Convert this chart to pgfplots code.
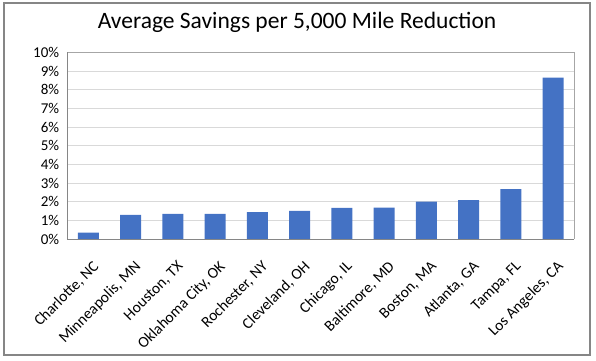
\documentclass[border=0pt]{standalone}
\usepackage{fontspec}
\setmainfont{Carlito}
\usepackage{pgfplots}
\pgfplotsset{compat=1.18}
\definecolor{barblue}{HTML}{4472C4}
\definecolor{gridgray}{HTML}{D9D9D9}
\definecolor{axgray}{HTML}{868686}
\definecolor{framegray}{HTML}{A6A6A6}
\begin{document}
\begin{tikzpicture}[x=1pt,y=1pt]
\path (0,0) rectangle (596,360);
\draw[color=axgray, line width=1.2pt] (4,5) rectangle (590,357);
\node[font=\fontsize{23.5}{28}\selectfont, text=black, anchor=base, inner sep=0pt] at (297,331.7) {Average Savings per 5,000 Mile Reduction};
\begin{axis}[
  at={(67.3pt,120.7pt)}, anchor=south west,
  scale only axis, width=507pt, height=187pt,
  xmin=-0.5, xmax=11.5, ymin=0, ymax=10,
  ytick={0,1,2,3,4,5,6,7,8,9,10},
  yticklabels={0\%,1\%,2\%,3\%,4\%,5\%,6\%,7\%,8\%,9\%,10\%},
  xtick={0,1,2,3,4,5,6,7,8,9,10,11},
  xticklabels={},
  yticklabel style={font=\fontsize{15}{17}\selectfont, inner sep=0pt, xshift=-8pt, anchor=east},
  tick style={draw=none},
  ymajorgrids, grid style={color=gridgray, line width=1pt},
  axis line style={draw=none},
  clip=false,
]
\addplot[ybar, bar width=21pt, fill=barblue, draw=none] coordinates {
  (0,0.36) (1,1.30) (2,1.36) (3,1.36) (4,1.45) (5,1.52)
  (6,1.68) (7,1.70) (8,2.02) (9,2.09) (10,2.68) (11,8.64)
};
\draw[color=framegray, line width=1pt] (axis cs:-0.5,10) -- (axis cs:11.5,10) -- (axis cs:11.5,0);
\draw[color=axgray, line width=1.3pt] (axis cs:-0.5,10) -- (axis cs:-0.5,0) -- (axis cs:11.5,0);
\tikzset{clab/.style={rotate=45, anchor=east, inner sep=0pt, font=\fontsize{15.5}{17}\selectfont}}
\node[clab] at ([xshift=8pt,yshift=-25pt]axis cs:0,0) {Charlotte, NC};
\node[clab] at ([xshift=8pt,yshift=-25pt]axis cs:1,0) {Minneapolis, MN};
\node[clab] at ([xshift=8pt,yshift=-25pt]axis cs:2,0) {Houston, TX};
\node[clab] at ([xshift=8pt,yshift=-25pt]axis cs:3,0) {Oklahoma City, OK};
\node[clab] at ([xshift=8pt,yshift=-25pt]axis cs:4,0) {Rochester, NY};
\node[clab] at ([xshift=8pt,yshift=-25pt]axis cs:5,0) {Cleveland, OH};
\node[clab] at ([xshift=8pt,yshift=-25pt]axis cs:6,0) {Chicago, IL};
\node[clab] at ([xshift=8pt,yshift=-25pt]axis cs:7,0) {Baltimore, MD};
\node[clab] at ([xshift=8pt,yshift=-25pt]axis cs:8,0) {Boston, MA};
\node[clab] at ([xshift=8pt,yshift=-25pt]axis cs:9,0) {Atlanta, GA};
\node[clab] at ([xshift=8pt,yshift=-25pt]axis cs:10,0) {Tampa, FL};
\node[clab] at ([xshift=8pt,yshift=-25pt]axis cs:11,0) {Los Angeles, CA};
\end{axis}
\end{tikzpicture}
\end{document}
